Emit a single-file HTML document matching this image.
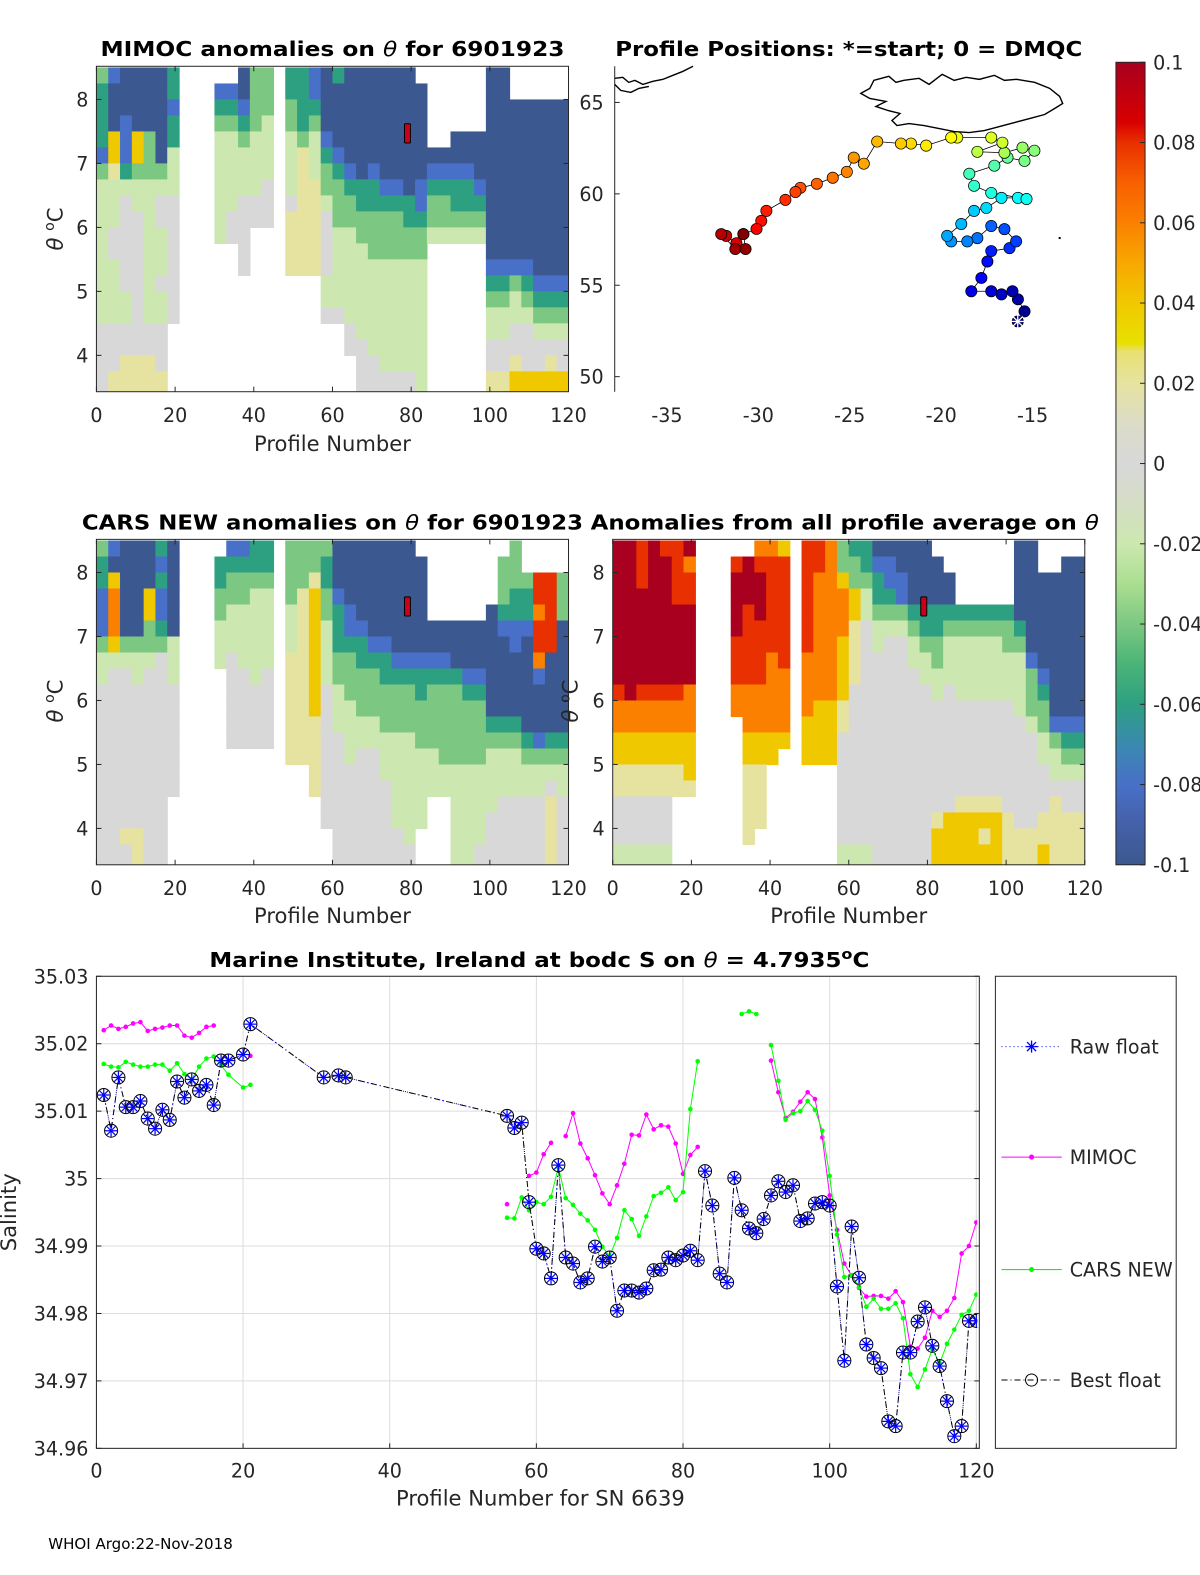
<!DOCTYPE html>
<html><head><meta charset="utf-8"><title>Argo float 6901923 anomalies</title>
<style>
html,body{margin:0;padding:0;background:#fff;overflow:hidden;width:1200px;height:1575px;}
#wrap{width:1200px;height:1575px;overflow:hidden;position:relative;}
svg{display:block;overflow:hidden;font-family:"DejaVu Sans","Liberation Sans",sans-serif;}
.tk{font-size:19px;fill:#262626;}
.ttl{font-size:20px;font-weight:bold;fill:#000;}
.lab{font-size:21px;fill:#262626;}
</style></head>
<body>
<div id="wrap">
<svg id="fig" width="1200" height="1575" viewBox="0 0 1194.7 1568.1" preserveAspectRatio="none" xmlns="http://www.w3.org/2000/svg">
<defs>
<clipPath id="cp1"><rect x="96" y="66" width="470" height="324"/></clipPath>
<clipPath id="cp3"><rect x="96" y="537" width="470" height="324"/></clipPath>
<clipPath id="cp4"><rect x="610" y="537" width="470" height="324"/></clipPath>
<clipPath id="cpb"><rect x="96" y="972" width="877" height="470"/></clipPath>
<clipPath id="cpall"><rect x="0" y="0" width="1194.7" height="1568"/></clipPath>
<linearGradient id="cbgrad" x1="0" y1="0" x2="0" y2="1">
<stop offset="0" stop-color="#a8001e"/><stop offset="0.075" stop-color="#d80000"/><stop offset="0.1" stop-color="#e83000"/>
<stop offset="0.15" stop-color="#f86000"/><stop offset="0.2" stop-color="#fb8000"/><stop offset="0.25" stop-color="#f8a800"/>
<stop offset="0.3" stop-color="#f0c800"/><stop offset="0.35" stop-color="#e8e000"/><stop offset="0.36" stop-color="#e8e070"/>
<stop offset="0.4" stop-color="#e6e3a0"/><stop offset="0.45" stop-color="#dcdcc8"/><stop offset="0.5" stop-color="#d8d8d8"/>
<stop offset="0.55" stop-color="#d5ddc5"/><stop offset="0.6" stop-color="#cce8b0"/><stop offset="0.65" stop-color="#aade90"/>
<stop offset="0.7" stop-color="#7cc882"/><stop offset="0.75" stop-color="#4ab478"/><stop offset="0.8" stop-color="#2ea082"/>
<stop offset="0.85" stop-color="#3a8ab0"/><stop offset="0.9" stop-color="#4870c8"/><stop offset="0.95" stop-color="#4460a8"/>
<stop offset="1" stop-color="#3c5890"/>
</linearGradient>
</defs>

<text class="ttl" x="331" y="56" text-anchor="middle" textLength="462" lengthAdjust="spacingAndGlyphs">MIMOC anomalies on <tspan font-style="italic" font-weight="normal">θ</tspan>  for 6901923</text>
<text class="ttl" x="845" y="56" text-anchor="middle" textLength="465" lengthAdjust="spacingAndGlyphs">Profile Positions: *=start; 0 = DMQC</text>
<text class="ttl" x="331" y="527" text-anchor="middle" textLength="499" lengthAdjust="spacingAndGlyphs">CARS NEW anomalies on <tspan font-style="italic" font-weight="normal">θ</tspan> for 6901923</text>
<text class="ttl" x="841" y="527" text-anchor="middle" textLength="506" lengthAdjust="spacingAndGlyphs">Anomalies from all profile average on <tspan font-style="italic" font-weight="normal">θ</tspan></text>
<text class="ttl" x="537" y="963" text-anchor="middle" textLength="657" lengthAdjust="spacingAndGlyphs">Marine Institute, Ireland at bodc S on <tspan font-style="italic" font-weight="normal">θ</tspan> = 4.7935<tspan dy="-8" font-size="14">o</tspan><tspan dy="8">C</tspan></text>

<g id="p1"></g>
<g id="p2"></g>
<g id="p3"></g>
<g id="p4"></g>

<g>
<rect x="1111" y="62" width="29" height="799" fill="url(#cbgrad)" stroke="#262626" stroke-width="1"/>
<g id="cbticks" clip-path="url(#cpall)"></g>
</g>

<g id="pb"></g>

<g>
<rect x="991" y="972" width="180" height="470" fill="#fff" stroke="#262626" stroke-width="1"/>
<g>
<line x1="997" y1="1042" x2="1057" y2="1042" stroke="#0000ff" stroke-width="1" stroke-dasharray="1,3"/>
<g stroke="#0000ff" stroke-width="1.3"><line x1="1021" y1="1042" x2="1033" y2="1042"/><line x1="1027" y1="1036" x2="1027" y2="1048"/><line x1="1022.5" y1="1037.5" x2="1031.5" y2="1046.5"/><line x1="1022.5" y1="1046.5" x2="1031.5" y2="1037.5"/></g>
<text class="tk" x="1065" y="1049">Raw float</text></g>
<g>
<line x1="997" y1="1152" x2="1057" y2="1152" stroke="#ff00ff" stroke-width="1"/><circle cx="1027" cy="1152" r="2.5" fill="#ff00ff"/>
<text class="tk" x="1065" y="1159">MIMOC</text></g>
<g>
<line x1="997" y1="1264" x2="1057" y2="1264" stroke="#00ff00" stroke-width="1"/><circle cx="1027" cy="1264" r="2.5" fill="#00ff00"/>
<text class="tk" x="1065" y="1271">CARS NEW</text></g>
<g>
<line x1="997" y1="1374" x2="1057" y2="1374" stroke="#000" stroke-width="1" stroke-dasharray="6,3,1,3"/><circle cx="1027" cy="1374" r="6" fill="none" stroke="#000"/>
<text class="tk" x="1065" y="1381">Best float</text></g>
</g>

<text x="48" y="1542" font-size="15" fill="#000">WHOI Argo:22-Nov-2018</text>
</svg>
</div>

<script>
const codeKeys = ['0','1','2','3','4','5','6','7','8','9','R'];
const codeValues = [-0.1,-0.08,-0.06,-0.04,-0.02,0,0.02,0.04,0.06,0.08,0.1];
const cbTicks = [0.1,0.08,0.06,0.04,0.02,0,-0.02,-0.04,-0.06,-0.08,-0.1];
const cbTickLabels = ['0.1','0.08','0.06','0.04','0.02','0','-0.02','-0.04','-0.06','-0.08','-0.1'];
const thetaTicks = [4,5,6,7,8];
const profileTicks = [0,20,40,60,80,100,120];

const mimocGrid = [
["3100002","...","..033",".","221","020","00000.",".....","00.","...."],
["2000002","...","11033",".","221","000","000000",".....","00.","...."],
["2000001","...","22133",".","322","000","000000",".....","000","0000"],
["2010002","...","33234",".","323","000","000000",".....","000","0000"],
["2717302","...","44344",".","434","100","000000","..000","000","0000"],
["1717304","...","44444",".","464","210","000000","00000","000","0000"],
["3623334","...","44444",".","464","321","010000","11110","000","0000"],
["4444444","...","44445",".","466","332","221101","22221","000","0000"],
["4454455","...","44555",".","566","433","222221","33222","000","0000"],
["4455455","...","45555",".","666","533","333322","33333","000","0000"],
["4555445","...","455..",".","666","544","333333","44444","000","0000"],
["4555445","...","..5..",".","666","544","433333",".....","000","0000"],
["4455445","...","..5..",".","666","544","444444",".....","111","1000"],
["4455455","...",".....",".","...","444","444444",".....","223","2111"],
["4445445","...",".....",".","...","444","444444",".....","334","3222"],
["4445445","...",".....",".","...","554","444444",".....","444","4333"],
["555555.","...",".....",".","...","..5","444444",".....","445","5444"],
["555555.","...",".....",".","...","..5","544444",".....","555","5555"],
["556665.","...",".....",".","...","...","554444",".....","556","5565"],
["566666.","...",".....",".","...","...","555554",".....","667","7777"]
];
const carsGrid = [
["3100020","...",".1122",".","333","300","00000.",".....","..3","...."],
["2000010","...","22222",".","333","200","000000",".....",".33","...."],
["2700020","...","23333",".","336","200","000000",".....",".33","3993"],
["1800710","...","33344",".","367","310","000000",".....",".32","2993"],
["1800710","...","34444",".","467","321","000000",".....","022","2893"],
["1800320","...","44444",".","467","421","100000","00000","011","1990"],
["3733334","...","44444",".","467","422","211000","00000","001","0990"],
["4444454","...","45444",".","667","433","222111","11000","000","0800"],
["4554554","...",".5545",".","667","433","332222","22211","000","0100"],
["5555555","...",".5555",".","667","543","333332","33322","000","0000"],
["5555555","...",".5555",".","667","544","333333","33333","000","0000"],
["5555555","...",".5555",".","666","544","443333","33333","222","0000"],
["5555555","...",".5555",".","666","554","444443","33333","333","2122"],
["5555555","...",".....",".","666","554","554444","43333","444","3333"],
["5555555","...",".....",".","..6","555","554444","44444","444","4444"],
["5555555","...",".....",".","..6","555","555444","44444","444","4454"],
["555555.","...",".....",".","...","555","555444","..444","455","5565"],
["555555.","...",".....",".","...","555","555444","..444","555","5565"],
["556655.","...",".....",".","...",".55","55554.","..444","555","5565"],
["555655.","...",".....",".","...",".55","55555.","..445","555","5565"]
];
const averageGrid = [
["RR9R99R","...","..887",".","998","322","00000.",".....",".00","...."],
["RR9RR98","...","9R999",".","998","332","110000",".....",".00","..00"],
["RR9RR99","...","RRR99",".","988","733","211000","0....",".00","0000"],
["RRRRR99","...","RRR99",".","988","874","221000","0....",".00","0000"],
["RRRRRRR","...","R9R99",".","988","874","333222","22222","200","0000"],
["RRRRRRR","...","R9999",".","988","865","444322","33333","320","0000"],
["RRRRRRR","...","99999",".","988","765","455433","44444","330","0000"],
["RRRRRRR","...","99989",".","888","765","555443","44444","441","0000"],
["RRRRRRR","...","99988",".","888","765","555544","44444","443","1000"],
["9R99998","...","88888",".","888","755","555554","54444","443","2000"],
["8888888","...","88888",".","877","655","555555","55555","543","3000"],
["8888888","...",".8888",".","777","655","555555","55555","554","3111"],
["7777777","...",".7777",".","777","555","555555","55555","555","4322"],
["7777777","...",".777.",".","777","555","555555","55555","555","4433"],
["6666667","...",".66..",".","...","555","555555","55555","555","5444"],
["6666666","...",".66..",".","...","555","555555","55555","555","5555"],
["55555..","...",".66..",".","...","555","555555","56666","555","5655"],
["55555..","...",".66..",".","...","555","555556","77777","655","6666"],
["55555..","...",".6...",".","...","555","555557","77767","666","6666"],
["44444..","...",".....",".","...","444","555557","77777","666","7666"]
];

const trackLon = [-15.81,-15.44,-15.8,-16.1,-16.7,-17.26,-18.35,-17.8,-17.47,-17.26,-16.26,-15.9,-16.54,-17.26,-18.02,-18.57,-19.45,-19.67,-18.9,-18.2,-17.53,-16.7,-15.8,-15.33,-17.26,-18.2,-18.46,-17.09,-16.37,-15.44,-14.9,-15.55,-16.54,-18.02,-16.65,-17.26,-19.12,-19.45,-20.82,-21.65,-22.2,-23.5,-24.23,-24.78,-25.16,-25.93,-26.8,-27.7,-27.97,-28.52,-29.56,-29.84,-30.1,-30.82,-31.2,-31.76,-32.03,-31.26,-30.7,-30.82];
const trackLat = [53.02,53.57,54.23,54.67,54.5,54.67,54.67,55.4,56.3,56.87,57.03,57.4,58.07,58.24,57.58,57.4,57.4,57.7,58.35,59.07,59.23,59.78,59.78,59.72,60.05,60.44,61.1,61.54,61.98,61.8,62.36,62.53,62.25,62.3,62.8,63.08,63.08,63.08,62.64,62.75,62.75,62.86,61.65,61.98,61.2,60.88,60.55,60.33,60.1,59.67,59.07,58.52,58.08,57.8,57.3,57.7,57.8,56.98,56.98,57.8];
const lonTicks = [-35,-30,-25,-20,-15];
const latTicks = [50,55,60,65];

const salTicks = [35.03,35.02,35.01,35.00,34.99,34.98,34.97,34.96];
const salTickLabels = ['35.03','35.02','35.01','35','34.99','34.98','34.97','34.96'];
const bestN = [1,2,3,4,5,6,7,8,9,10,11,12,13,14,15,16,17,18,20,21,31,33,34,56,57,58,59,60,61,62,63,64,65,66,67,68,69,70,71,72,73,74,75,76,77,78,79,80,81,82,83,84,85,86,87,88,89,90,91,92,93,94,95,96,97,98,99,100,101,102,103,104,105,106,107,108,109,110,111,112,113,114,115,116,117,118,119,120];
const bestS = [35.0124,35.0071,35.0150,35.0106,35.0106,35.0115,35.0089,35.0074,35.0102,35.0087,35.0144,35.0120,35.0147,35.0130,35.0139,35.0109,35.0175,35.0175,35.0184,35.0229,35.0150,35.0153,35.0150,35.0093,35.0075,35.0083,34.9965,34.9896,34.9889,34.9852,35.0020,34.9883,34.9874,34.9846,34.9852,34.9899,34.9877,34.9883,34.9804,34.9834,34.9834,34.9831,34.9837,34.9864,34.9865,34.9883,34.9879,34.9886,34.9893,34.9879,35.0011,34.9960,34.9859,34.9846,35.0001,34.9953,34.9926,34.9919,34.9940,34.9975,34.9996,34.9980,34.9990,34.9937,34.9941,34.9963,34.9965,34.9960,34.9840,34.9730,34.9929,34.9853,34.9754,34.9734,34.9719,34.9640,34.9633,34.9742,34.9742,34.9788,34.9809,34.9752,34.9722,34.9670,34.9618,34.9633,34.9789,34.9789];
const mimocN = [1,2,3,4,5,6,7,8,9,10,11,12,13,14,15,16,null,21,null,56,null,59,60,61,62,null,64,65,66,67,68,69,70,71,72,73,74,75,76,77,78,79,80,81,82,null,92,93,94,95,96,97,98,99,100,101,102,103,104,105,106,107,108,109,110,111,112,113,114,115,116,117,118,119,120];
const mimocS = [35.0220,35.0227,35.0222,35.0225,35.0230,35.0232,35.0219,35.0222,35.0224,35.0227,35.0227,35.0212,35.0209,35.0216,35.0225,35.0227,null,35.0182,null,34.9962,null,35.0004,35.0009,35.0036,35.0053,null,35.0063,35.0097,35.0052,35.0030,35.0005,34.9978,34.9962,34.9990,35.0022,35.0065,35.0064,35.0095,35.0073,35.0079,35.0077,35.0052,35.0007,35.0035,35.0047,null,35.0175,35.0128,35.0090,35.0099,35.0114,35.0128,35.0118,35.0061,34.9975,34.9924,34.9874,34.9856,34.9838,34.9825,34.9826,34.9826,34.9822,34.9833,34.9817,34.9751,34.9748,34.9764,34.9804,34.9795,34.9804,34.9823,34.9889,34.9900,34.9935];
const carsN = [1,2,3,4,5,6,7,8,9,10,11,12,13,14,15,16,17,18,20,21,null,56,57,58,59,60,61,62,63,64,65,66,67,68,69,70,71,72,73,74,75,76,77,78,79,80,81,82,null,88,89,90,null,92,93,94,95,96,97,98,99,100,101,102,103,104,105,106,107,108,109,110,111,112,113,114,115,116,117,118,119,120];
const carsS = [35.0170,35.0166,35.0165,35.0173,35.0169,35.0166,35.0166,35.0169,35.0169,35.0160,35.0171,35.0155,35.0147,35.0166,35.0178,35.0181,35.0168,35.0154,35.0135,35.0139,null,34.9942,34.9941,34.9972,34.9953,34.9965,34.9962,34.9973,35.0017,34.9971,34.9961,34.9948,34.9938,34.9924,34.9899,34.9885,34.9912,34.9953,34.9940,34.9915,34.9944,34.9974,34.9979,34.9987,34.9968,34.9980,35.0103,35.0174,null,35.0244,35.0248,35.0244,null,35.0198,35.0145,35.0087,35.0097,35.0100,35.0115,35.0102,35.0071,35.0004,34.9917,34.9854,34.9857,34.9839,34.9810,34.9822,34.9807,34.9807,34.9815,34.9793,34.9710,34.9691,34.9717,34.9747,34.9726,34.9755,34.9776,34.9798,34.9804,34.9828];

const NS = 'http://www.w3.org/2000/svg';
function mk(tag, attrs, parent){ const e=document.createElementNS(NS,tag); for(const k in attrs) e.setAttribute(k,attrs[k]); if(parent) parent.appendChild(e); return e; }
const cmapStops = [[-0.1,[60,88,144]],[-0.09,[68,96,168]],[-0.08,[72,112,200]],[-0.07,[58,138,176]],[-0.06,[46,160,130]],[-0.05,[74,180,120]],[-0.04,[124,200,130]],[-0.03,[170,222,144]],[-0.02,[204,232,176]],[-0.01,[213,221,197]],[0,[216,216,216]],[0.01,[220,220,200]],[0.02,[230,227,160]],[0.028,[232,224,112]],[0.03,[232,224,0]],[0.04,[240,200,0]],[0.05,[248,168,0]],[0.06,[251,128,0]],[0.07,[248,96,0]],[0.08,[232,48,0]],[0.085,[216,0,0]],[0.1,[168,0,30]]];
function cmap(v){ if(v <= cmapStops[0][0]) return 'rgb('+cmapStops[0][1]+')';
 for(let i=1;i<cmapStops.length;i++){ if(v <= cmapStops[i][0]){ const a=cmapStops[i-1],b=cmapStops[i],t=(v-a[0])/(b[0]-a[0]); return 'rgb('+a[1].map((x,j)=>Math.round(x+(b[1][j]-x)*t)).join(',')+')'; } }
 return 'rgb('+cmapStops[cmapStops.length-1][1]+')'; }
function jet(t){ const r=Math.max(0,Math.min(1,1.5-Math.abs(4*t-3))), g=Math.max(0,Math.min(1,1.5-Math.abs(4*t-2))), b=Math.max(0,Math.min(1,1.5-Math.abs(4*t-1))); return 'rgb('+Math.round(r*255)+','+Math.round(g*255)+','+Math.round(b*255)+')'; }
function addText(parent, attrs, txt, name){ const t=mk('text',attrs,parent); t.innerHTML=txt;
 
 
 return t; }

const PX_PER_PROF = 470/120, PX_PER_DEG = 63.7;

function heatPanel(gid, grid, x0, y0, clip, axisName){
 const g=document.getElementById(gid);
 const y8 = y0 + 33;
 const xP = p => x0 + p*PX_PER_PROF;
 const yT = t => y8 - (t-8)*PX_PER_DEG;
 const cells = mk('g',{'clip-path':'url(#'+clip+')'},g);
 
 
 grid.forEach((segs,r)=>{
  const row = segs.join('');
  for(let c=0;c<40 && c<row.length;c++){
   const k=codeKeys.indexOf(row[c]); if(k<0) continue;
   const tTop = 8.5-0.25*r, tBot = (r===19)? 3.2 : tTop-0.25;
   const rc = mk('rect',{x:xP(3*c).toFixed(2), y:yT(tTop).toFixed(2), width:(3*PX_PER_PROF+0.6).toFixed(2), height:(yT(tBot)-yT(tTop)+0.6).toFixed(2), fill:cmap(codeValues[k])}, cells);
   
   
  }
 });
 mk('rect',{x:xP(78.3),y:yT(7.62),width:6,height:PX_PER_DEG*0.3,fill:'#c8001e',stroke:'#000','stroke-width':1,rx:1},g);
 mk('rect',{x:x0,y:y0,width:470,height:324,fill:'none',stroke:'#262626','stroke-width':1},g);
 profileTicks.forEach(p=>{
  mk('line',{x1:xP(p),y1:y0+324,x2:xP(p),y2:y0+319,stroke:'#262626'},g);
  mk('line',{x1:xP(p),y1:y0,x2:xP(p),y2:y0+5,stroke:'#262626'},g);
  const t=mk('text',{x:xP(p),y:y0+354,'text-anchor':'middle',class:'tk'},g); t.textContent=p;
  
  
 });
 thetaTicks.forEach(v=>{
  mk('line',{x1:x0,y1:yT(v),x2:x0+5,y2:yT(v),stroke:'#262626'},g);
  mk('line',{x1:x0+470,y1:yT(v),x2:x0+465,y2:yT(v),stroke:'#262626'},g);
  const t=mk('text',{x:x0-8,y:yT(v)+7,'text-anchor':'end',class:'tk'},g); t.textContent=v;
  
  
 });
}
heatPanel('p1', mimocGrid, 96, 66, 'cp1', 'mimoc');
heatPanel('p3', carsGrid, 96, 537, 'cp3', 'cars');
heatPanel('p4', averageGrid, 610, 537, 'cp4', 'average');

const root=document.getElementById('fig');
addText(root,{x:331,y:449,'text-anchor':'middle',class:'lab'},'Profile Number','mimoc-x-axis-title');
addText(root,{x:331,y:919,'text-anchor':'middle',class:'lab'},'Profile Number','cars-x-axis-title');
addText(root,{x:845,y:919,'text-anchor':'middle',class:'lab'},'Profile Number','average-x-axis-title');
addText(root,{transform:'translate(62,228) rotate(-90)','text-anchor':'middle',class:'lab'},'<tspan font-style="italic">θ</tspan> <tspan dy="-8" font-size="14">o</tspan><tspan dy="8">C</tspan>','mimoc-y-axis-title');
addText(root,{transform:'translate(62,698) rotate(-90)','text-anchor':'middle',class:'lab'},'<tspan font-style="italic">θ</tspan> <tspan dy="-8" font-size="14">o</tspan><tspan dy="8">C</tspan>','cars-y-axis-title');
addText(root,{transform:'translate(575,698) rotate(-90)','text-anchor':'middle',class:'lab'},'<tspan font-style="italic">θ</tspan> <tspan dy="-8" font-size="14">o</tspan><tspan dy="8">C</tspan>','average-y-axis-title');

(function(){
 const g=document.getElementById('p2');
 const xL = lon => 664 + (lon+35)*18.2;
 const yL = lat => 102 + (65-lat)*18.2;
 mk('line',{x1:612,y1:66,x2:612,y2:390,stroke:'#262626'},g);
 latTicks.forEach(v=>{ mk('line',{x1:612,y1:yL(v),x2:617,y2:yL(v),stroke:'#262626'},g);
  const t=mk('text',{x:601,y:yL(v)+7,'text-anchor':'end',class:'tk'},g); t.textContent=v;
  
   });
 lonTicks.forEach(v=>{ const t=mk('text',{x:xL(v),y:420,'text-anchor':'middle',class:'tk'},g); t.textContent=v;
  
   });
 const ice=mk('path',{d:'M857,93 L866,88 870,80 885,76 892,82 900,80 915,78 925,84 938,74 950,80 962,77 975,79 990,75 1000,80 1012,79 1030,82 1045,88 1055,96 1058,103 1050,108 1040,114 1025,118 1010,122 995,126 980,130 965,132 950,131 935,128 920,125 905,123 893,125 888,120 896,113 884,110 872,106 882,101 866,98 Z',fill:'none',stroke:'#000','stroke-width':1.4},g);
 
 
 const grn=mk('path',{d:'M612,78 L620,77 626,82 632,80 640,84 650,81 660,79 670,75 680,71 686,68 690,66 M612,84 L618,90 628,92 636,88 646,86',fill:'none',stroke:'#000','stroke-width':1.4},g);
 
 
 mk('rect',{x:1054,y:236,width:2,height:2,fill:'#000'},g);
 const pts = trackLon.map((lo,i)=>xL(lo).toFixed(1)+','+yL(trackLat[i]).toFixed(1)).join(' ');
 const tl=mk('polyline',{points:pts,fill:'none',stroke:'#000','stroke-width':0.8},g);
 
 
 const n=trackLon.length;
 for(let i=0;i<n;i++){
  const c=mk('circle',{cx:xL(trackLon[i]),cy:yL(trackLat[i]),r:5.6,fill:jet(i/(n-1)),stroke:'#000','stroke-width':0.7},g);
  
  
 }
 const sx=xL(trackLon[0]), sy=yL(trackLat[0]);
 const st=mk('g',{stroke:'#fff','stroke-width':1.3},g);
 
 
 [[-7,0,7,0],[0,-7,0,7],[-5,-5,5,5],[-5,5,5,-5]].forEach(d=>mk('line',{x1:sx+d[0],y1:sy+d[1],x2:sx+d[2],y2:sy+d[3]},st));
})();

(function(){
 const g=document.getElementById('cbticks');
 const yC = v => 62 + (0.1-v)/0.2*799;
 cbTicks.forEach((v,i)=>{
  mk('line',{x1:1135,y1:yC(v),x2:1140,y2:yC(v),stroke:'#262626'},g);
  const t=mk('text',{x:1148,y:yC(v)+7,class:'tk'},g); t.textContent=cbTickLabels[i];
  
  
 });
})();

(function(){
 const g=document.getElementById('pb');
 const xS = n => 96 + n*7.3;
 const yS = s => 972 + (35.03-s)*6714.3;
 profileTicks.forEach(p=>{
  mk('line',{x1:xS(p),y1:972,x2:xS(p),y2:1442,stroke:'#dcdcdc'},g);
  mk('line',{x1:xS(p),y1:1442,x2:xS(p),y2:1437,stroke:'#262626'},g);
  const t=mk('text',{x:xS(p),y:1471,'text-anchor':'middle',class:'tk'},g); t.textContent=p;
  
  
 });
 salTicks.forEach((v,i)=>{
  mk('line',{x1:96,y1:yS(v),x2:975,y2:yS(v),stroke:'#dcdcdc'},g);
  mk('line',{x1:96,y1:yS(v),x2:101,y2:yS(v),stroke:'#262626'},g);
  mk('line',{x1:975,y1:yS(v),x2:970,y2:yS(v),stroke:'#262626'},g);
  const t=mk('text',{x:88,y:yS(v)+7,'text-anchor':'end',class:'tk'},g); t.textContent=salTickLabels[i];
  
  
 });
 mk('rect',{x:96,y:972,width:879,height:470,fill:'none',stroke:'#262626'},g);
 function segs(N,S){ const out=[]; let cur=[]; N.forEach((n,i)=>{ if(n===null||S[i]===null){ if(cur.length) out.push(cur); cur=[]; } else cur.push([xS(n),yS(S[i])]); }); if(cur.length) out.push(cur); return out; }
 const cl=mk('g',{'clip-path':'url(#cpb)'},g);
 [['mimoc',mimocN,mimocS,'#ff00ff'],['cars-new',carsN,carsS,'#00ff00']].forEach(([nm,N,S,col])=>{
  const sg=mk('g',{},cl);
  
  
  segs(N,S).forEach(s=>{
   if(s.length>1) mk('polyline',{points:s.map(p=>p.join(',')).join(' '),fill:'none',stroke:col,'stroke-width':1},sg);
   s.forEach(p=>mk('circle',{cx:p[0],cy:p[1],r:2.3,fill:col},sg));
  });
 });
 const best=mk('g',{},cl);
 
 
 const bp=bestN.map((n,i)=>[xS(n),yS(bestS[i])]);
 mk('polyline',{points:bp.map(p=>p.join(',')).join(' '),fill:'none',stroke:'#0000ff','stroke-width':1,'stroke-dasharray':'1,3'},best);
 mk('polyline',{points:bp.map(p=>p.join(',')).join(' '),fill:'none',stroke:'#000','stroke-width':1,'stroke-dasharray':'6,3,1,3'},best);
 bp.forEach(p=>{
  const m=mk('g',{},best);
  
  
  mk('circle',{cx:p[0],cy:p[1],r:6.5,fill:'none',stroke:'#000','stroke-width':1},m);
  [[-6,0,6,0],[0,-6,0,6],[-4.2,-4.2,4.2,4.2],[-4.2,4.2,4.2,-4.2]].forEach(d=>mk('line',{x1:p[0]+d[0],y1:p[1]+d[1],x2:p[0]+d[2],y2:p[1]+d[3],stroke:'#0000ff','stroke-width':1.2},m));
 });
 addText(g,{x:538,y:1499,'text-anchor':'middle',class:'lab'},'Profile Number for SN 6639','salinity-x-axis-title');
 addText(g,{transform:'translate(16,1207) rotate(-90)','text-anchor':'middle',class:'lab'},'Salinity','salinity-y-axis-title');
})();
</script>
</body></html>
